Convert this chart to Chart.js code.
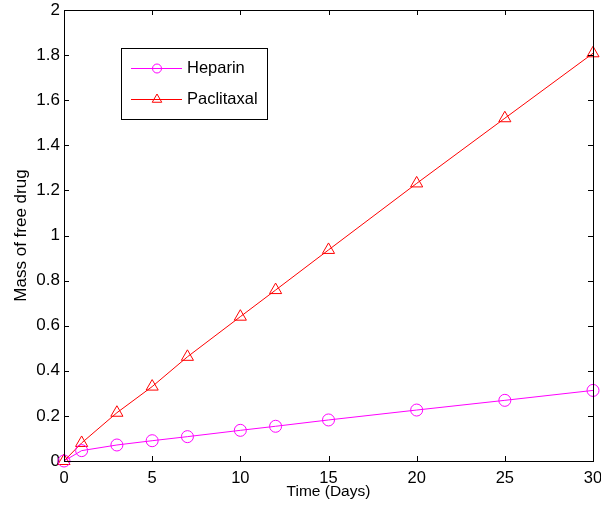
<!DOCTYPE html>
<html>
<head>
<meta charset="utf-8">
<script src="https://cdn.jsdelivr.net/npm/chart.js@4/dist/chart.umd.min.js"></script>
<style>
    body { margin: 0; background: #fff; }
    #wrap { width: 601px; height: 510px; }
</style>
</head>
<body>
<div id="wrap"><canvas id="drug-chart" width="601" height="510"></canvas></div>
<script>
const days = [0, 1, 3, 5, 7, 10, 12, 15, 20, 25, 30];
const heparin = [0, 0.046, 0.071, 0.09, 0.108, 0.136, 0.154, 0.182, 0.226, 0.269, 0.313];
const paclitaxal = [0, 0.08, 0.214, 0.33, 0.462, 0.64, 0.758, 0.936, 1.231, 1.52, 1.808];
const seriesNames = ['Heparin', 'Paclitaxal'];
const xTicks = [0, 5, 10, 15, 20, 25, 30];
const yTicks = [0, 0.2, 0.4, 0.6, 0.8, 1, 1.2, 1.4, 1.6, 1.8, 2];

const FONT = '"Liberation Sans", Arial, sans-serif';

// MATLAB-style box, inward ticks and legend
const matlabBox = {
    id: 'matlabBox',
    afterDraw(chart) {
        const ctx = chart.ctx;
        const area = chart.chartArea;
        const xs = chart.scales.x;
        const ys = chart.scales.y;
        ctx.save();
        ctx.strokeStyle = '#000';
        ctx.lineWidth = 1;
        ctx.strokeRect(Math.round(area.left) + 0.5, Math.round(area.top) + 0.5,
            Math.round(area.right - area.left), Math.round(area.bottom - area.top));

        const len = 5;
        ctx.beginPath();
        xTicks.forEach(v => {
            const px = Math.round(xs.getPixelForValue(v)) + 0.5;
            ctx.moveTo(px, area.bottom); ctx.lineTo(px, area.bottom - len);
            ctx.moveTo(px, area.top); ctx.lineTo(px, area.top + len);
        });
        yTicks.forEach(v => {
            const py = Math.round(ys.getPixelForValue(v)) + 0.5;
            ctx.moveTo(area.left, py); ctx.lineTo(area.left + len, py);
            ctx.moveTo(area.right, py); ctx.lineTo(area.right - len, py);
        });
        ctx.stroke();

        // legend
        ctx.fillStyle = '#fff';
        ctx.fillRect(121, 48, 146, 71);
        ctx.strokeStyle = '#000';
        ctx.strokeRect(121.5, 48.5, 146, 71);
        const rows = [
            { y: 68.5, color: '#ff00ff', style: 'circle', r: 4.5 },
            { y: 99.5, color: '#ff0000', style: 'triangle', r: 5.5 }
        ];
        rows.forEach((row, i) => {
            ctx.strokeStyle = row.color;
            ctx.beginPath();
            ctx.moveTo(131, row.y); ctx.lineTo(182, row.y);
            ctx.stroke();
            ctx.fillStyle = 'rgba(0,0,0,0)';
            Chart.helpers.drawPoint(ctx, { pointStyle: row.style, radius: row.r, borderWidth: 1 }, 157, row.y);
            ctx.fillStyle = '#000';
            ctx.font = '16.5px ' + FONT;
            ctx.textBaseline = 'middle';
            ctx.fillText(seriesNames[i], 187, row.y);
        });
        ctx.restore();
    }
};

const ctx = document.getElementById('drug-chart').getContext('2d');

new Chart(ctx, {
    type: 'line',
    data: {
        datasets: [{
            label: seriesNames[0],
            data: days.map((d, i) => ({ x: d, y: heparin[i] })),
            borderColor: '#ff00ff',
            backgroundColor: 'transparent',
            borderWidth: 1,
            pointStyle: 'circle',
            pointRadius: 6,
            pointBorderWidth: 1,
            pointBorderColor: '#ff00ff',
            pointBackgroundColor: 'transparent',
            clip: false
        }, {
            label: seriesNames[1],
            data: days.map((d, i) => ({ x: d, y: paclitaxal[i] })),
            borderColor: '#ff0000',
            backgroundColor: 'transparent',
            borderWidth: 1,
            pointStyle: 'triangle',
            pointRadius: 7,
            pointBorderWidth: 1,
            pointBorderColor: '#ff0000',
            pointBackgroundColor: 'transparent',
            clip: false
        }]
    },
    options: {
        responsive: false,
        animation: false,
        layout: { padding: { top: 10, right: 8, left: 0, bottom: 0 } },
        scales: {
            x: {
                type: 'linear',
                min: 0,
                max: 30,
                afterBuildTicks: scale => { scale.ticks = xTicks.map(v => ({ value: v })); },
                afterFit: scale => {
                    scale.height = 49;
                    scale.paddingLeft = 0;
                    scale.paddingRight = 0;
                },
                grid: { display: false, drawTicks: false },
                border: { display: false },
                ticks: { color: '#000', font: { family: FONT, size: 16.5 }, padding: 8, maxRotation: 0 },
                title: { display: true, text: 'Time (Days)', color: '#000', font: { family: FONT, size: 15.5 }, padding: { top: 0, bottom: 9 } }
            },
            y: {
                type: 'linear',
                min: 0,
                max: 2,
                afterBuildTicks: scale => { scale.ticks = yTicks.map(v => ({ value: v })); },
                afterFit: scale => {
                    scale.width = 64;
                    scale.paddingTop = 0;
                    scale.paddingBottom = 0;
                },
                grid: { display: false, drawTicks: false },
                border: { display: false },
                ticks: { color: '#000', font: { family: FONT, size: 17 }, padding: 4, callback: v => String(Math.round(v * 10) / 10) },
                title: { display: true, text: 'Mass of free drug', color: '#000', font: { family: FONT, size: 17 }, padding: { top: 11, bottom: 0 } }
            }
        },
        plugins: {
            legend: { display: false },
            tooltip: { enabled: false }
        }
    },
    plugins: [matlabBox]
});
</script>
</body>
</html>
